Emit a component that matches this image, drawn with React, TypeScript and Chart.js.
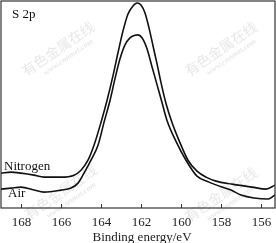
import React, { useEffect, useRef } from "react";
import { Chart, registerables } from "chart.js";

Chart.register(...registerables);

// Binding energy (eV) and intensity (arbitrary units)
const nitrogenBE = [169.0, 168.5, 168.0, 167.35, 166.85, 166.0, 165.35, 165.0, 164.65, 164.35, 164.0, 163.7, 163.4, 163.15, 162.9, 162.65, 162.4, 162.2, 162.0, 161.8, 161.6, 161.4, 161.2, 161.0, 160.75, 160.45, 160.1, 159.65, 159.2, 158.75, 158.25, 157.45, 156.45, 155.75, 155.3];
const nitrogenI = [35, 36, 35, 33, 31, 31, 33, 38, 48, 63, 86, 108, 133, 156, 178, 195, 203, 206, 204, 196, 181, 163, 145, 126, 105, 86, 68, 48, 37, 31, 27, 24, 21, 19, 23];
const airBE = [169.0, 168.5, 168.0, 167.35, 166.85, 166.0, 165.5, 165.15, 164.85, 164.5, 164.15, 163.85, 163.55, 163.3, 163.05, 162.8, 162.55, 162.3, 162.15, 161.95, 161.7, 161.45, 161.2, 160.95, 160.7, 160.25, 159.75, 159.2, 158.6, 157.95, 157.5, 157.0, 156.35, 155.65, 155.3];
const airI = [19, 20, 21, 18, 16, 18, 20, 25, 35, 48, 63, 86, 108, 130, 150, 164, 171, 173.5, 174, 171, 160, 142, 124, 106, 88, 67, 48, 32, 26, 21, 18, 13, 10, 9, 13];

const tickValues = [168, 166, 164, 162, 160, 158, 156];
const seriesNames = ["Nitrogen", "Air"];
const panelLabel = "S 2p";
const xTitle = "Binding energy/eV";
const watermarkCN = "有色金属在线";
const watermarkURL = "www.cnnmet.com";

const FONT = "'Liberation Serif', 'Times New Roman', serif";

const decorPlugin = {
  id: "decor",
  beforeDatasetsDraw(chart: any) {
    const ctx = chart.ctx;
    const w = chart.width;
    const h = chart.height;
    const spots = [
      [0.21, 0.2],
      [0.8, 0.2],
      [0.22, 0.79],
      [0.8, 0.8],
    ];
    ctx.save();
    ctx.fillStyle = "rgba(170,170,170,0.28)";
    ctx.textAlign = "center";
    ctx.textBaseline = "middle";
    for (const [fx, fy] of spots) {
      ctx.save();
      ctx.translate(fx * w, fy * h);
      ctx.rotate(-0.6);
      ctx.font = `14px 'Noto Sans CJK SC', sans-serif`;
      ctx.fillText(watermarkCN, 0, 0);
      ctx.font = `italic bold 8px ${FONT}`;
      ctx.fillText(watermarkURL, 4, 13);
      ctx.restore();
    }
    ctx.restore();
  },
  afterDraw(chart: any) {
    const ctx = chart.ctx;
    const a = chart.chartArea;
    const xs = chart.scales.x;
    const ys = chart.scales.y;
    ctx.save();
    ctx.strokeStyle = "#333";
    ctx.lineWidth = 1.2;
    ctx.strokeRect(a.left, a.top, a.right - a.left, a.bottom - a.top);
    ctx.lineWidth = 1;
    ctx.fillStyle = "#222";
    ctx.font = `13px ${FONT}`;
    ctx.textAlign = "center";
    ctx.textBaseline = "middle";
    for (const v of tickValues) {
      const px = Math.round(xs.getPixelForValue(v)) + 0.5;
      ctx.beginPath();
      ctx.moveTo(px, a.bottom);
      ctx.lineTo(px, a.bottom - 4);
      ctx.stroke();
      ctx.fillText(String(v), px, a.bottom + 15);
    }
    ctx.fillText(xTitle, (a.left + a.right) / 2 + 4, a.bottom + 30);
    ctx.fillStyle = "#111";
    ctx.textAlign = "left";
    ctx.fillText(panelLabel, a.left + 11, a.top + 14);
    ctx.fillText(seriesNames[0], xs.getPixelForValue(168.85), ys.getPixelForValue(42));
    ctx.fillText(seriesNames[1], xs.getPixelForValue(168.65), ys.getPixelForValue(14));
    ctx.restore();
  },
};

export default function App() {
  const ref = useRef<HTMLCanvasElement | null>(null);
  useEffect(() => {
    if (!ref.current) return;
    const chart = new Chart(ref.current, {
      type: "line",
      data: {
        datasets: [
          {
            label: seriesNames[0],
            data: nitrogenBE.map((x, i) => ({ x, y: nitrogenI[i] })),
            borderColor: "#111",
            borderWidth: 1.6,
            pointRadius: 0,
            cubicInterpolationMode: "monotone",
            fill: false,
          },
          {
            label: seriesNames[1],
            data: airBE.map((x, i) => ({ x, y: airI[i] })),
            borderColor: "#111",
            borderWidth: 1.6,
            pointRadius: 0,
            cubicInterpolationMode: "monotone",
            fill: false,
          },
        ],
      },
      options: {
        animation: false,
        responsive: false,
        devicePixelRatio: 1,
        layout: { padding: { left: 1, right: 1, top: 1, bottom: 35 } },
        plugins: { legend: { display: false }, tooltip: { enabled: false } },
        scales: {
          x: {
            type: "linear",
            reverse: true,
            min: 155.3,
            max: 169.0,
            display: false,
          },
          y: {
            display: false,
            min: 0,
            max: 208,
          },
        },
      },
      plugins: [decorPlugin],
    } as any);
    return () => chart.destroy();
  }, []);
  return (
    <div style={{ position: "absolute", left: 0, top: 0, width: 276, height: 243, background: "#fff" }}>
      <canvas ref={ref} width={276} height={243} style={{ display: "block" }} />
    </div>
  );
}
